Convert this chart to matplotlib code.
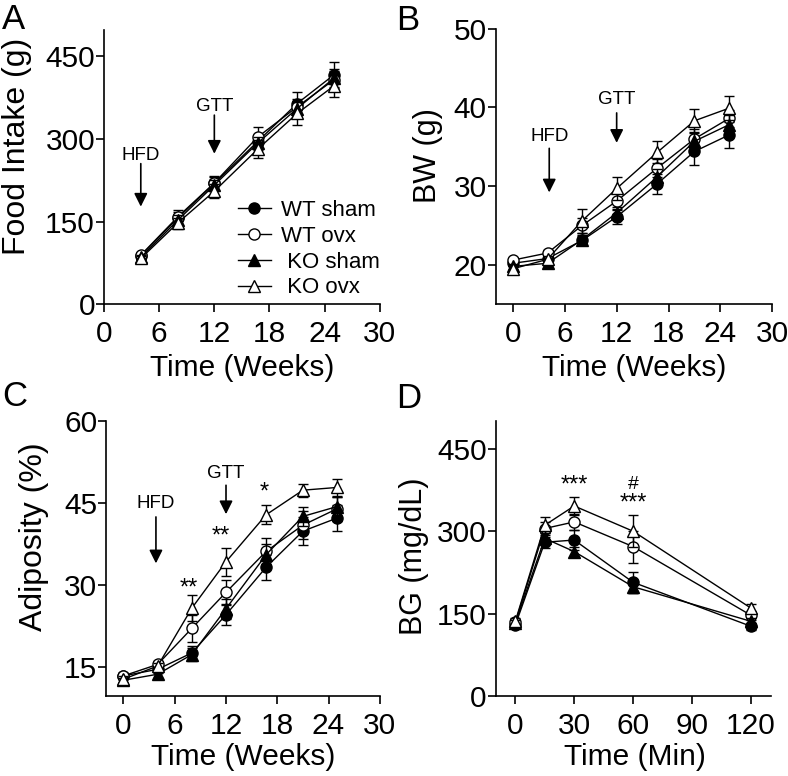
import matplotlib
matplotlib.use("Agg")
import matplotlib.pyplot as plt
import numpy as np

plt.rcParams['font.family'] = ['Liberation Sans', 'DejaVu Sans']

# ---- data ----
groups = ["WT sham", "WT ovx", " KO sham", " KO ovx"]
markers = ["o", "o", "^", "^"]
faces = ["black", "white", "black", "white"]

weeks_a = [4, 8, 12, 16.7, 21, 25]
food_wt_sham = [88, 156, 219, 295, 364, 416]
food_wt_ovx = [89, 158, 220, 303, 358, 407]
food_ko_sham = [85, 152, 216, 292, 355, 410]
food_ko_ovx = [83, 147, 205, 281, 346, 396]
food_err = [[4, 12, 12, 12, 21, 24], [4, 12, 12, 19, 14, 16],
            [4, 10, 10, 12, 14, 16], [4, 10, 13, 16, 20, 20]]

weeks_b = [0, 4, 8, 12, 16.7, 21, 25]
bw_wt_sham = [20.2, 20.8, 23.1, 26.1, 30.3, 34.4, 36.5]
bw_wt_ovx = [20.6, 21.5, 25.0, 28.1, 32.3, 36.0, 38.6]
bw_ko_sham = [19.8, 20.2, 23.2, 26.6, 31.2, 35.7, 37.8]
bw_ko_ovx = [19.5, 20.7, 25.6, 29.7, 34.3, 38.3, 39.9]
bw_err = [[0.3, 0.4, 0.6, 0.9, 1.3, 1.7, 1.7], [0.3, 0.4, 1.0, 1.0, 1.2, 1.3, 1.1],
          [0.3, 0.4, 0.6, 0.8, 1.0, 1.2, 1.2], [0.3, 0.4, 1.5, 1.5, 1.4, 1.5, 1.5]]

weeks_c = [0, 4, 8, 12, 16.7, 21, 25]
adi_wt_sham = [13.4, 14.6, 17.6, 24.6, 33.3, 39.9, 42.3]
adi_wt_ovx = [13.4, 15.5, 22.1, 28.7, 36.2, 41.0, 44.0]
adi_ko_sham = [12.6, 13.7, 17.3, 25.7, 35.6, 42.6, 44.4]
adi_ko_ovx = [12.8, 15.2, 25.8, 34.3, 42.9, 47.4, 47.9]
adi_err = [[0.5, 0.6, 1.2, 1.8, 2.3, 2.5, 2.4], [0.5, 0.6, 2.5, 2.2, 2.4, 2.5, 2.2],
           [0.5, 0.6, 1.2, 1.8, 2.0, 1.8, 1.8], [0.5, 0.6, 2.4, 2.6, 1.7, 1.2, 1.5]]

minutes = [0, 15, 30, 60, 120]
bg_wt_sham = [129, 280, 284, 207, 127]
bg_wt_ovx = [134, 305, 317, 272, 147]
bg_ko_sham = [133, 287, 263, 199, 136]
bg_ko_ovx = [136, 311, 346, 300, 160]
bg_err = [[6, 10, 18, 19, 6], [6, 12, 14, 29, 8],
          [6, 10, 9, 12, 6], [6, 15, 16, 29, 8]]

# ---- figure ----
fig = plt.figure(figsize=(7.88, 7.76), dpi=100)
axA = fig.add_axes([0.132, 0.608, 0.350, 0.353])
axB = fig.add_axes([0.629, 0.608, 0.351, 0.355])
axC = fig.add_axes([0.135, 0.103, 0.347, 0.354])
axD = fig.add_axes([0.629, 0.103, 0.349, 0.354])


def draw(ax, x, series, errs):
    for i, y in enumerate(series):
        ax.errorbar(x, y, yerr=errs[i], color="black", lw=1.0, elinewidth=1.0,
                    capsize=3.6, capthick=1.0, marker=markers[i], ms=8,
                    mfc=faces[i], mec="black", mew=1.0, label=groups[i],
                    zorder=3 + i)


def style(ax, xlim, ylim, xticks, yticks, xlabel, ylabel, ysize, xlab_pos, ylab_pos):
    ax.set_xlim(*xlim)
    ax.set_ylim(*ylim)
    ax.set_xticks(xticks)
    ax.set_yticks(yticks)
    ax.spines[["top", "right"]].set_visible(False)
    for s in ["left", "bottom"]:
        ax.spines[s].set_linewidth(1.2)
    ax.tick_params(direction="out", length=5.5, width=1.2, labelsize=21.5)
    ax.tick_params(axis="x", pad=6)
    ax.tick_params(axis="y", pad=1)
    ax.set_xlabel(xlabel, fontsize=21.5, va="center")
    ax.set_ylabel(ylabel, fontsize=ysize, va="center")
    ax.xaxis.set_label_coords(*xlab_pos)
    ax.yaxis.set_label_coords(*ylab_pos)


def arrow(ax, label, x, ytext, ystart, yend):
    ax.text(x, ytext, label, ha="center", va="center", fontsize=13.5)
    ax.annotate("", xy=(x, yend), xytext=(x, ystart),
                arrowprops=dict(arrowstyle="-|>", color="black", lw=1.2,
                                mutation_scale=20, shrinkA=0, shrinkB=0))


draw(axA, weeks_a, [food_wt_sham, food_wt_ovx, food_ko_sham, food_ko_ovx], food_err)
style(axA, (0, 30), (0, 497), [0, 6, 12, 18, 24, 30], [0, 150, 300, 450],
      "Time (Weeks)", "Food Intake (g)", 23, (0.5, -0.234), (-0.315, 0.575))
arrow(axA, "HFD", 4, 270, 255, 177)
arrow(axA, "GTT", 12, 359, 343, 273)
handles, labels = axA.get_legend_handles_labels()
handles = [h[0] for h in handles]
axA.legend(handles, labels, loc="lower left", bbox_to_anchor=(0.412, -0.052),
           frameon=False, fontsize=16, handlelength=1.5, handletextpad=0.45,
           labelspacing=0.22)

draw(axB, weeks_b, [bw_wt_sham, bw_wt_ovx, bw_ko_sham, bw_ko_ovx], bw_err)
style(axB, (-2, 30), (15, 50), [0, 6, 12, 18, 24, 30], [20, 30, 40, 50],
      "Time (Weeks)", "BW (g)", 22, (0.5, -0.23), (-0.243, 0.54))
arrow(axB, "HFD", 4.2, 36.3, 34.8, 29.2)
arrow(axB, "GTT", 12, 41.0, 39.3, 35.5)

draw(axC, weeks_c, [adi_wt_sham, adi_wt_ovx, adi_ko_sham, adi_ko_ovx], adi_err)
style(axC, (-2, 30), (9.7, 60), [0, 6, 12, 18, 24, 30], [15, 30, 45, 60],
      "Time (Weeks)", "Adiposity (%)", 23, (0.5, -0.222), (-0.263, 0.58))
arrow(axC, "HFD", 3.8, 45.0, 42.5, 34.0)
arrow(axC, "GTT", 12, 50.5, 48.3, 43.0)
for xs, ys, s in [(7.7, 29.3, "**"), (11.4, 39.0, "**"), (16.5, 47.0, "*")]:
    axC.text(xs, ys, s, ha="center", va="center", fontsize=17)

draw(axD, minutes, [bg_wt_sham, bg_wt_ovx, bg_ko_sham, bg_ko_ovx], bg_err)
style(axD, (-10, 130), (0, 500), [0, 30, 60, 90, 120], [0, 150, 300, 450],
      "Time (Min)", "BG (mg/dL)", 22, (0.505, -0.222), (-0.298, 0.51))
axD.text(30, 384, "***", ha="center", va="center", fontsize=17)
axD.text(60, 386, "#", ha="center", va="center", fontsize=14)
axD.text(60, 350, "***", ha="center", va="center", fontsize=17)

for lab, x, y in [("A", 0.003, 0.975), ("B", 0.503, 0.974),
                  ("C", 0.003, 0.489), ("D", 0.503, 0.487)]:
    fig.text(x, y, lab, fontsize=25, ha="left", va="center")

fig.savefig("out.png", dpi=100)
